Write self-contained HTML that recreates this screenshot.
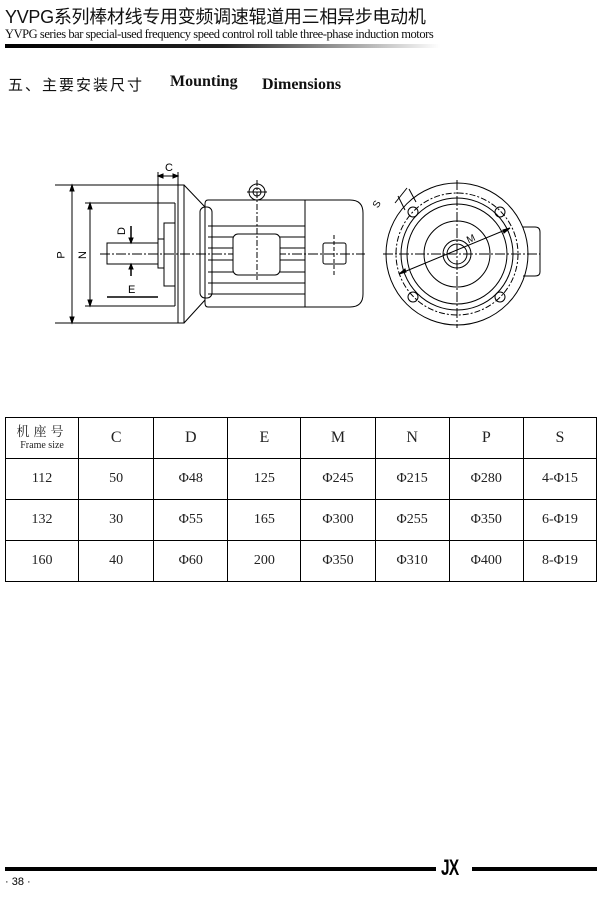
<!DOCTYPE html>
<html><head><meta charset="utf-8"><style>
body{margin:0;width:603px;height:901px;background:#fff;position:relative;overflow:hidden;font-family:"Liberation Serif","Noto Serif CJK SC",serif;}
.a{position:absolute;white-space:nowrap;}
table{position:absolute;left:5px;top:417px;border-collapse:collapse;table-layout:fixed;width:592px;}
td{border:1px solid #000;text-align:center;font-size:14px;color:#222;padding:0;}
</style></head><body>
<div class="a" style="left:5px;top:3px;font:18px 'Liberation Sans','Noto Sans CJK SC',sans-serif;color:#111;letter-spacing:-0.3px">YVPG系列棒材线专用变频调速辊道用三相异步电动机</div>
<div class="a" style="left:5px;top:27px;font-size:12.5px;letter-spacing:-0.45px;color:#111">YVPG series bar special-used frequency speed control roll table three-phase induction motors</div>
<div class="a" style="left:5px;top:44px;width:435px;height:4px;background:linear-gradient(to right,#000 0%,#222 50%,#fff 100%)"></div>
<div class="a" style="left:8px;top:74px;font:15px 'Noto Sans CJK SC',sans-serif;color:#111;letter-spacing:2px">五、主要安装尺寸</div>
<div class="a" style="left:170px;top:73px;font-weight:bold;font-size:16px;color:#111">Mounting</div>
<div class="a" style="left:262px;top:76px;font-weight:bold;font-size:16px;color:#111">Dimensions</div>

<svg class="a" style="left:0;top:0" width="603" height="400" fill="none" stroke="#000" stroke-width="1">
<line x1="55" y1="185" x2="184" y2="185"/><line x1="55" y1="323" x2="184" y2="323"/>
<line x1="72" y1="187" x2="72" y2="321"/>
<path d="M72 185 l-2 6 h4z M72 323 l-2 -6 h4z" fill="#000"/>
<line x1="85" y1="203" x2="175" y2="203"/><line x1="85" y1="306" x2="175" y2="306"/>
<line x1="90" y1="205" x2="90" y2="304"/>
<path d="M90 203 l-2 6 h4z M90 306 l-2 -6 h4z" fill="#000"/>
<line x1="175" y1="203" x2="175" y2="306"/>
<rect x="178" y="185" width="6" height="138"/>
<line x1="184" y1="185" x2="205" y2="207"/><line x1="184" y1="323" x2="205" y2="300"/>
<rect x="164" y="223" width="11" height="63"/>
<rect x="158" y="239" width="6" height="29"/>
<rect x="107" y="243" width="51" height="21"/>
<line x1="158" y1="172" x2="158" y2="239"/><line x1="178" y1="172" x2="178" y2="185"/>
<line x1="158" y1="176" x2="178" y2="176"/>
<path d="M158 176 l5 -2 v4z M178 176 l-5 -2 v4z" fill="#000"/>
<line x1="131" y1="226" x2="131" y2="243" stroke-width="1.5"/><line x1="131" y1="264" x2="131" y2="276" stroke-width="1.5"/>
<path d="M131 243 l-2 -5 h4z M131 264 l-2 5 h4z" fill="#000"/>
<line x1="107" y1="297" x2="158" y2="297" stroke-width="1.5"/>
<line x1="100" y1="254" x2="365" y2="254" stroke-dasharray="10 2 2 2"/>
<rect x="200" y="207" width="12" height="91" rx="5"/>
<path d="M208 200 H305 V307 H208 Q205 307 205 303 V204 Q205 200 208 200Z"/>
<path d="M305 200 H350 Q363 200 363 213 V294 Q363 307 350 307 H305"/>
<line x1="208" y1="226" x2="305" y2="226"/><line x1="208" y1="237" x2="233" y2="237"/><line x1="280" y1="237" x2="305" y2="237"/>
<line x1="208" y1="260" x2="233" y2="260"/><line x1="280" y1="260" x2="305" y2="260"/>
<line x1="208" y1="272" x2="233" y2="272"/><line x1="280" y1="272" x2="305" y2="272"/>
<line x1="208" y1="283" x2="305" y2="283"/><line x1="208" y1="294" x2="305" y2="294"/>
<line x1="208" y1="248" x2="233" y2="248"/><line x1="280" y1="248" x2="305" y2="248"/>
<rect x="233" y="234" width="47" height="41" rx="5" fill="#fff"/>
<line x1="257" y1="180" x2="257" y2="280" stroke-dasharray="6 2 2 2"/>
<circle cx="257" cy="192" r="8"/><circle cx="257" cy="192" r="4"/>
<line x1="247" y1="192" x2="267" y2="192"/>
<rect x="323" y="243" width="23" height="21" rx="2"/>
<line x1="334" y1="235" x2="334" y2="275" stroke-dasharray="4 2"/>
<circle cx="457" cy="254" r="71"/>
<circle cx="457" cy="254" r="61" stroke-dasharray="6 2 2 2"/>
<circle cx="457" cy="254" r="56"/><circle cx="457" cy="254" r="50"/>
<circle cx="457" cy="254" r="33"/><circle cx="457" cy="254" r="14"/><circle cx="457" cy="254" r="10"/>
<line x1="383" y1="254" x2="540" y2="254" stroke-dasharray="10 2 2 2"/>
<line x1="457" y1="180" x2="457" y2="328" stroke-dasharray="10 2 2 2"/>
<circle cx="413" cy="212" r="5"/><circle cx="500" cy="212" r="5"/><circle cx="413" cy="297" r="5"/><circle cx="500" cy="297" r="5"/>
<line x1="399" y1="274" x2="510" y2="228"/>
<path d="M399 274 l6 -5 l1 3z M510 228 l-6 5 l-1 -3z" fill="#000"/>
<line x1="395" y1="203" x2="407" y2="188"/><line x1="405" y1="210" x2="398" y2="196"/><line x1="416" y1="202" x2="409" y2="189"/>
<path d="M523 227 H535 Q540 227 540 232 V272 Q540 276 535 276 H523" />
</svg>
<div class="a" style="left:165px;top:162px;font:11px 'Liberation Sans',sans-serif">C</div>
<div class="a" style="left:118px;top:225px;font:11px 'Liberation Sans',sans-serif;transform:rotate(-90deg)">D</div>
<div class="a" style="left:128px;top:284px;font:11px 'Liberation Sans',sans-serif">E</div>
<div class="a" style="left:58px;top:249px;font:11px 'Liberation Sans',sans-serif;transform:rotate(-90deg)">P</div>
<div class="a" style="left:79px;top:249px;font:11px 'Liberation Sans',sans-serif;transform:rotate(-90deg)">N</div>
<div class="a" style="left:374px;top:199px;font:10px 'Liberation Sans',sans-serif;transform:rotate(-60deg)">S</div>
<div class="a" style="left:467px;top:234px;font:10px 'Liberation Sans',sans-serif;transform:rotate(-25deg)">M</div>

<table>
<colgroup><col style="width:73px"><col style="width:75px"><col style="width:74px"><col style="width:73px"><col style="width:74px"><col style="width:74px"><col style="width:74px"><col style="width:73px"></colgroup>
<tr style="height:41px"><td style="line-height:12px"><span style="font-family:'Noto Serif CJK SC',serif;font-size:13px;letter-spacing:4px">机座号</span><br><span style="font-size:10px">Frame size</span></td><td style="font-size:16px">C</td><td style="font-size:16px">D</td><td style="font-size:16px">E</td><td style="font-size:16px">M</td><td style="font-size:16px">N</td><td style="font-size:16px">P</td><td style="font-size:16px">S</td></tr>
<tr style="height:41px"><td>112</td><td>50</td><td>Φ48</td><td>125</td><td>Φ245</td><td>Φ215</td><td>Φ280</td><td>4-Φ15</td></tr>
<tr style="height:41px"><td>132</td><td>30</td><td>Φ55</td><td>165</td><td>Φ300</td><td>Φ255</td><td>Φ350</td><td>6-Φ19</td></tr>
<tr style="height:41px"><td>160</td><td>40</td><td>Φ60</td><td>200</td><td>Φ350</td><td>Φ310</td><td>Φ400</td><td>8-Φ19</td></tr>
</table>

<div class="a" style="left:5px;top:867px;width:431px;height:4px;background:#000"></div>
<div class="a" style="left:441px;top:855px;font:bold 22px 'Liberation Sans',sans-serif;transform:scaleX(0.7);transform-origin:left;letter-spacing:-1px">JX</div>
<div class="a" style="left:472px;top:867px;width:125px;height:4px;background:#000"></div>
<div class="a" style="left:5px;top:876px;font:11px 'Liberation Sans',sans-serif">· 38 ·</div>
</body></html>
